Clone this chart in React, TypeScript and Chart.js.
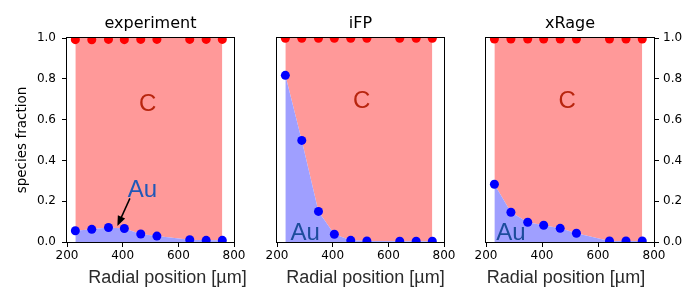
import React, { useEffect, useRef } from 'react';
import { Chart, registerables } from 'chart.js';

Chart.register(...registerables);
Chart.defaults.font.family = "'DejaVu Sans', sans-serif";

// ---------------- data ----------------
const radialPositions = [230, 289, 349, 406, 465, 523, 641, 700, 758];

const auExperiment = [0.055, 0.062, 0.071, 0.066, 0.039, 0.029, 0.011, 0.008, 0.008];
const cExperiment = [0.992, 0.991, 0.993, 0.992, 0.993, 0.993, 0.993, 0.993, 0.993];

const auIFP = [0.817, 0.498, 0.15, 0.038, 0.008, 0.005, 0.004, 0.004, 0.004];
const cIFP = [0.999, 0.999, 0.999, 0.999, 0.999, 0.999, 0.999, 0.999, 0.999];

const auXRage = [0.283, 0.146, 0.097, 0.082, 0.067, 0.043, 0.005, 0.005, 0.005];
const cXRage = [0.995, 0.995, 0.995, 0.995, 0.995, 0.995, 0.995, 0.995, 0.995];

const panelTitles = ['experiment', 'iFP', 'xRage'];
const speciesLabels = ['C', 'Au'];
const xAxisLabel = 'Radial position [µm]';
const yAxisLabel = 'species fraction';
const xMin = 200;
const xMax = 800;
const xStep = 200;
const yMin = 0;
const yMax = 1;
const yStep = 0.2;

// label anchor positions, in data coordinates
const cLabelPos = [
  [490, 0.64],
  [504, 0.658],
  [490, 0.658],
];
const auLabelPos = [
  [471, 0.222],
  [301, 0.01],
  [289, 0.01],
];
const arrowFrom = [426, 0.214];
const arrowTo = [381, 0.078];

// ---------------- layout / style ----------------
type PanelCfg = {
  idx: number;
  left: number;
  width: number;
  padL: number;
  padR: number;
  yPos: 'left' | 'right' | 'none';
  yWidth: number;
  au: number[];
  c: number[];
  auColor: string;
  xLabelShift: number;
  arrow: boolean;
};

const panels: PanelCfg[] = [
  { idx: 0, left: 0, width: 250, padL: 0, padR: 16, yPos: 'left', yWidth: 67, au: auExperiment, c: cExperiment, auColor: '#2058b8', xLabelShift: 17, arrow: true },
  { idx: 1, left: 250, width: 210, padL: 27, padR: 16, yPos: 'none', yWidth: 0, au: auIFP, c: cIFP, auColor: '#1c4c9c', xLabelShift: 5, arrow: false },
  { idx: 2, left: 460, width: 240, padL: 26, padR: 0, yPos: 'right', yWidth: 46, au: auXRage, c: cXRage, auColor: '#1c4c9c', xLabelShift: -4, arrow: false },
];

const HEIGHT = 300;
const RED_FILL = '#ff9999';
const BLUE_FILL = '#9f9fff';
const C_TEXT = '#b8250e';

function Panel({ cfg }: { cfg: PanelCfg }) {
  const ref = useRef<HTMLCanvasElement>(null);

  useEffect(() => {
    const auPts = radialPositions.map((x, i) => ({ x, y: cfg.au[i] }));
    const cPts = radialPositions.map((x, i) => ({ x, y: cfg.c[i] }));

    const decor = {
      id: 'decor',
      afterDatasetsDraw(chart: any) {
        const { ctx } = chart;
        const xs = chart.scales.x;
        const ys = chart.scales.y;
        ctx.save();
        ctx.textAlign = 'center';
        ctx.textBaseline = 'alphabetic';
        ctx.font = '24px "Liberation Sans", Arial, sans-serif';
        ctx.fillStyle = C_TEXT;
        const cp = cLabelPos[cfg.idx];
        ctx.fillText(speciesLabels[0], xs.getPixelForValue(cp[0]), ys.getPixelForValue(cp[1]));
        ctx.fillStyle = cfg.auColor;
        const ap = auLabelPos[cfg.idx];
        ctx.fillText(speciesLabels[1], xs.getPixelForValue(ap[0]), ys.getPixelForValue(ap[1]));
        if (cfg.arrow) {
          const x0 = xs.getPixelForValue(arrowFrom[0]);
          const y0 = ys.getPixelForValue(arrowFrom[1]);
          const x1 = xs.getPixelForValue(arrowTo[0]);
          const y1 = ys.getPixelForValue(arrowTo[1]);
          const ang = Math.atan2(y1 - y0, x1 - x0);
          const hl = 10;
          const hw = 4;
          ctx.strokeStyle = '#000';
          ctx.fillStyle = '#000';
          ctx.lineWidth = 1.5;
          ctx.beginPath();
          ctx.moveTo(x0, y0);
          ctx.lineTo(x1 - Math.cos(ang) * hl * 0.9, y1 - Math.sin(ang) * hl * 0.9);
          ctx.stroke();
          const bx = x1 - Math.cos(ang) * hl;
          const by = y1 - Math.sin(ang) * hl;
          ctx.beginPath();
          ctx.moveTo(x1, y1);
          ctx.lineTo(bx + Math.sin(ang) * hw, by - Math.cos(ang) * hw);
          ctx.lineTo(bx - Math.sin(ang) * hw, by + Math.cos(ang) * hw);
          ctx.closePath();
          ctx.fill();
        }
        ctx.restore();
      },
      afterDraw(chart: any) {
        const { ctx, chartArea: ca } = chart;
        ctx.save();
        const l = Math.round(ca.left);
        const r = Math.round(ca.right);
        const t = Math.round(ca.top);
        const b = Math.round(ca.bottom);
        ctx.strokeStyle = '#000';
        ctx.lineWidth = 1;
        ctx.strokeRect(l - 0.5, t - 0.5, r - l + 1, b - t + 1);
        ctx.font = '18px "Liberation Sans", Arial, sans-serif';
        ctx.fillStyle = '#2b2b2b';
        ctx.textAlign = 'center';
        ctx.textBaseline = 'alphabetic';
        ctx.fillText(xAxisLabel, (ca.left + ca.right) / 2 + cfg.xLabelShift, 282.5);
        ctx.restore();
      },
    };

    const yScale: any = {
      type: 'linear',
      min: yMin,
      max: yMax,
      display: cfg.yPos !== 'none',
      position: cfg.yPos === 'right' ? 'right' : 'left',
      ticks: {
        stepSize: yStep,
        color: '#000',
        font: { size: 12 },
        padding: cfg.yPos === 'right' ? 4 : 6,
        callback: (v: number) => Number(v).toFixed(1),
      },
      grid: { display: true, drawOnChartArea: false, drawTicks: true, tickLength: 5, color: '#000' },
      border: { display: false },
      title: {
        display: cfg.yPos === 'left',
        text: yAxisLabel,
        color: '#000',
        font: { size: 13.5 },
        padding: { top: 13.9, bottom: 0 },
      },
    };
    if (cfg.yPos !== 'none') {
      yScale.afterFit = (s: any) => {
        s.width = cfg.yWidth;
      };
    }

    const chart = new Chart(ref.current!, {
      type: 'line',
      data: {
        datasets: [
          { data: auPts, showLine: false, pointRadius: 4.5, pointBackgroundColor: '#0000ff', pointBorderWidth: 0, pointBorderColor: 'rgba(0,0,0,0)', order: 0 },
          { data: cPts, showLine: false, pointRadius: 4.5, pointBackgroundColor: '#ff0000', pointBorderWidth: 0, pointBorderColor: 'rgba(0,0,0,0)', order: 1 },
          { data: auPts, fill: 'origin', backgroundColor: BLUE_FILL, borderColor: 'rgba(0,0,0,0)', borderWidth: 0, pointRadius: 0, order: 2 },
          { data: auPts, fill: 'end', backgroundColor: RED_FILL, borderColor: 'rgba(0,0,0,0)', borderWidth: 0, pointRadius: 0, order: 3 },
        ] as any,
      },
      options: {
        animation: false,
        responsive: false,
        maintainAspectRatio: false,
        events: [],
        layout: { padding: { left: cfg.padL, right: cfg.padR, top: 0, bottom: 0 } },
        plugins: {
          legend: { display: false },
          tooltip: { enabled: false },
          title: {
            display: true,
            text: panelTitles[cfg.idx],
            fullSize: false,
            color: '#000',
            font: { size: 16, weight: 'normal' as any },
            padding: { top: 13.9, bottom: 4.9 },
          },
        },
        scales: {
          x: {
            type: 'linear',
            min: xMin,
            max: xMax,
            afterFit: (s: any) => {
              s.height = 58;
            },
            ticks: { stepSize: xStep, color: '#000', font: { size: 12 }, padding: 2, maxRotation: 0, autoSkip: false },
            grid: { display: true, drawOnChartArea: false, drawTicks: true, tickLength: 5, color: '#000' },
            border: { display: false },
          },
          y: yScale,
        },
      } as any,
      plugins: [decor],
    });
    return () => chart.destroy();
  }, []);

  return (
    <canvas
      ref={ref}
      width={cfg.width}
      height={HEIGHT}
      style={{ position: 'absolute', left: cfg.left, top: 0, width: cfg.width, height: HEIGHT }}
    />
  );
}

export default function App() {
  return (
    <div style={{ position: 'absolute', left: 0, top: 0, width: 700, height: HEIGHT, background: '#fff' }}>
      {panels.map((p) => (
        <Panel key={p.idx} cfg={p} />
      ))}
    </div>
  );
}
